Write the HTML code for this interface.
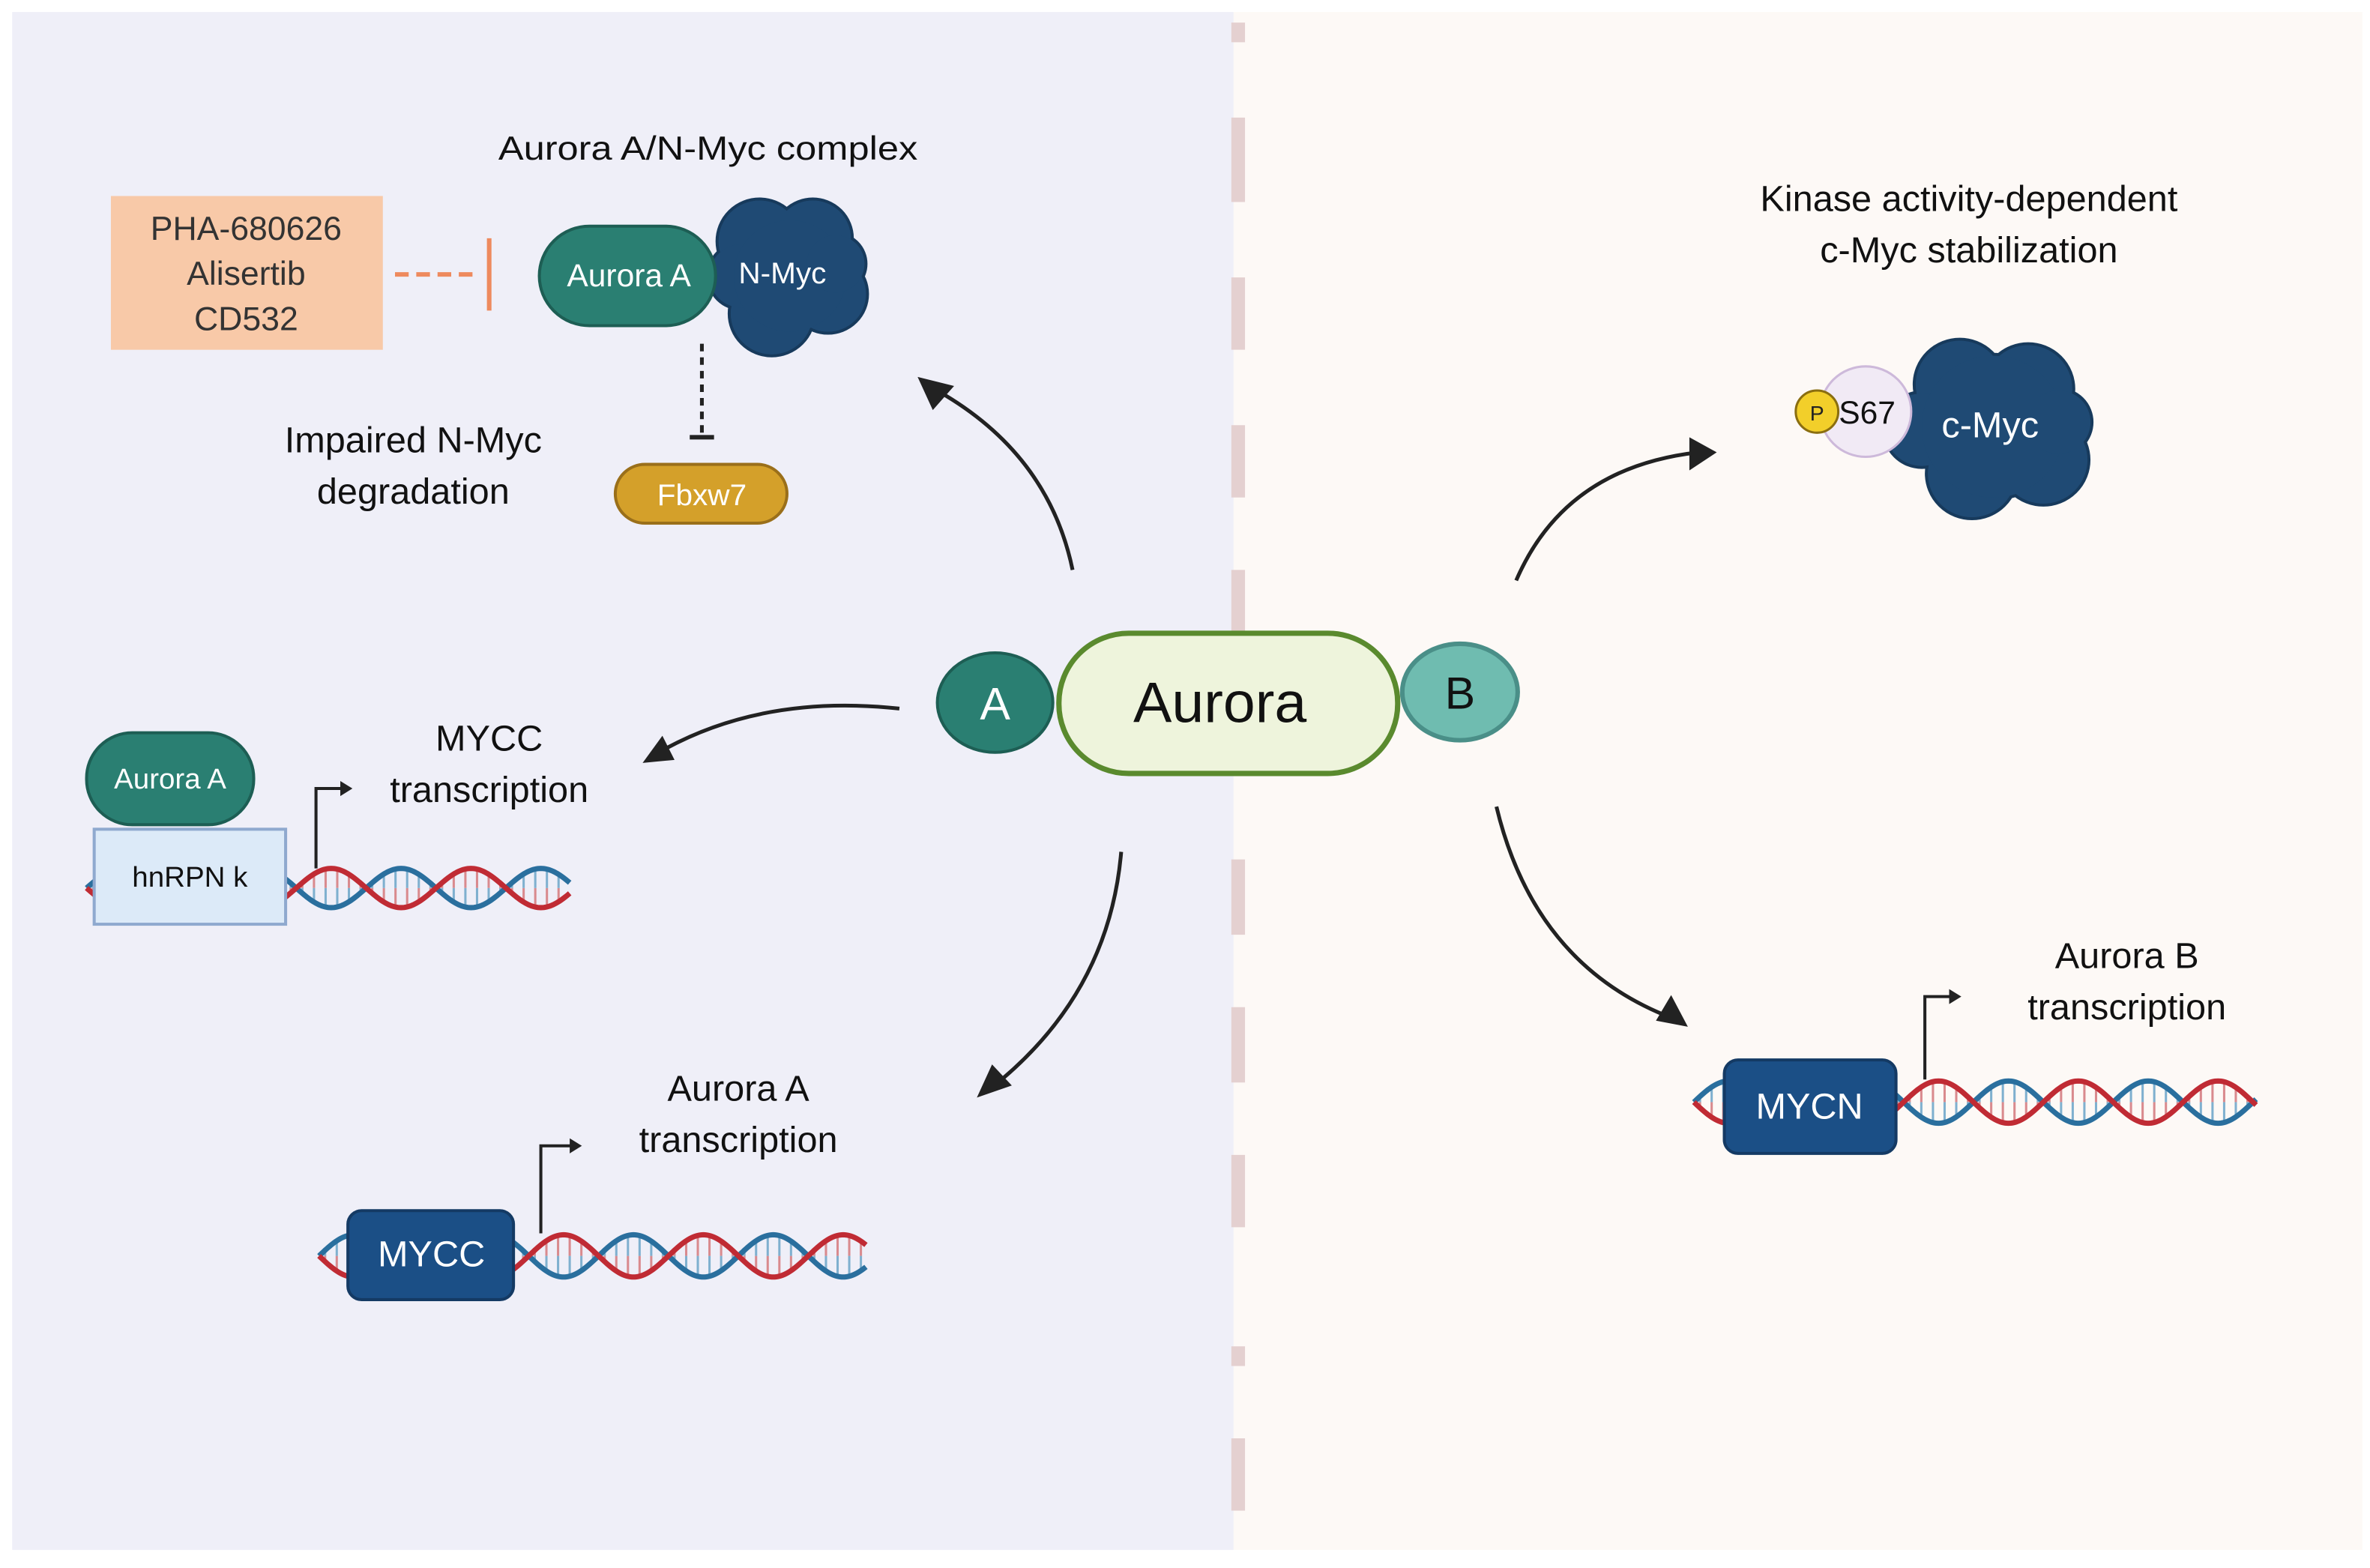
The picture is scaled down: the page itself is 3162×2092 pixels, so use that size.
<!DOCTYPE html>
<html><head><meta charset="utf-8">
<style>
html,body{margin:0;padding:0;background:#fff;}
svg{display:block;}
text{font-family:"Liberation Sans",Arial,sans-serif;}
</style></head>
<body>
<svg id="s" width="3162" height="2092" viewBox="0 0 1560 1040" preserveAspectRatio="none" xmlns="http://www.w3.org/2000/svg">
<rect x="0" y="0" width="1560" height="1040" fill="#ffffff"/>
<rect x="8" y="8" width="804" height="1020" fill="#efeff8"/>
<rect x="812" y="8" width="743" height="1020" fill="#fdf9f6"/>
<g stroke="#e4d0d0" stroke-width="9">
<line x1="815" y1="15" x2="815" y2="28"/>
<line x1="815" y1="78" x2="815" y2="134"/>
<line x1="815" y1="184" x2="815" y2="232"/>
<line x1="815" y1="282" x2="815" y2="330"/>
<line x1="815" y1="378" x2="815" y2="420"/>
<line x1="815" y1="570" x2="815" y2="620"/>
<line x1="815" y1="668" x2="815" y2="718"/>
<line x1="815" y1="766" x2="815" y2="814"/>
<line x1="815" y1="893" x2="815" y2="906"/>
<line x1="815" y1="954" x2="815" y2="1002"/>
</g>

<text x="466" y="106" font-size="22" text-anchor="middle" fill="#111" textLength="276" lengthAdjust="spacingAndGlyphs">Aurora A/N-Myc complex</text>
<rect x="73" y="130" width="179" height="102" fill="#f8c9a8"/>
<text x="162" y="159" font-size="22" text-anchor="middle" fill="#333">PHA-680626</text>
<text x="162" y="189" font-size="22" text-anchor="middle" fill="#333">Alisertib</text>
<text x="162" y="219" font-size="22" text-anchor="middle" fill="#333">CD532</text>
<line x1="260" y1="182" x2="316" y2="182" stroke="#ee8a5e" stroke-width="3" stroke-dasharray="9,5"/>
<line x1="322" y1="158" x2="322" y2="206" stroke="#ee8a5e" stroke-width="3"/>

<g fill="#1f4a74" stroke="#173a5c" stroke-width="2">
<circle cx="500" cy="160" r="28"/><circle cx="535" cy="158" r="26"/><circle cx="545" cy="195" r="26"/>
<circle cx="508" cy="208" r="28"/><circle cx="488" cy="183" r="22"/><circle cx="520" cy="183" r="38"/><circle cx="550" cy="175" r="20"/>
</g>
<g fill="#1f4a74"><circle cx="500" cy="160" r="27"/><circle cx="535" cy="158" r="25"/><circle cx="545" cy="195" r="25"/>
<circle cx="508" cy="208" r="27"/><circle cx="488" cy="183" r="21"/><circle cx="520" cy="183" r="37"/><circle cx="550" cy="175" r="19"/></g>
<rect x="355" y="150" width="116" height="66" rx="33" fill="#2a7f72" stroke="#1d5e54" stroke-width="2"/>
<text x="414" y="190" font-size="21" text-anchor="middle" fill="#fff">Aurora A</text>
<text x="515" y="188" font-size="20" text-anchor="middle" fill="#fff">N-Myc</text>

<line x1="462" y1="228" x2="462" y2="288" stroke="#222" stroke-width="2.5" stroke-dasharray="5,4"/>
<line x1="454" y1="290" x2="470" y2="290" stroke="#222" stroke-width="3"/>
<rect x="405" y="308" width="113" height="39" rx="19.5" fill="#d4a02a" stroke="#9a6f1a" stroke-width="2"/>
<text x="462" y="335" font-size="20" text-anchor="middle" fill="#fff">Fbxw7</text>
<text x="272" y="300" font-size="24" text-anchor="middle" fill="#111">Impaired N-Myc</text>
<text x="272" y="334" font-size="24" text-anchor="middle" fill="#111">degradation</text>

<g fill="none" stroke="#222" stroke-width="2.5">
<path d="M706,378 Q690,300 615,258"/>
<path d="M592,470 Q500,460 432,500"/>
<path d="M738,565 Q730,660 652,722"/>
<path d="M998,385 Q1030,310 1118,300"/>
<path d="M985,535 Q1010,640 1100,675"/>
</g>
<g fill="#222">
<polygon points="604,250 628,256 614,272"/>
<polygon points="423,506 436,488 444,504"/>
<polygon points="643,728 653,706 666,720"/>
<polygon points="1130,300 1112,290 1112,312"/>
<polygon points="1111,681 1090,677 1100,660"/>
</g>

<ellipse cx="655" cy="466" rx="38" ry="33" fill="#2a7f72" stroke="#1d5e54" stroke-width="2"/>
<text x="655" y="477" font-size="30" text-anchor="middle" fill="#fff">A</text>
<ellipse cx="961" cy="459" rx="38" ry="32" fill="#6fbcb0" stroke="#4a8f88" stroke-width="3"/>
<text x="961" y="470" font-size="30" text-anchor="middle" fill="#111">B</text>
<rect x="697" y="420" width="223" height="93" rx="46" fill="#eef4dc" stroke="#5a8a2e" stroke-width="3.5"/>
<text x="803" y="479" font-size="38" text-anchor="middle" fill="#111">Aurora</text>

<text x="322" y="498" font-size="24" text-anchor="middle" fill="#111">MYCC</text>
<text x="322" y="532" font-size="24" text-anchor="middle" fill="#111">transcription</text>
<g id="dna1"></g>
<rect x="62" y="550" width="126" height="63" fill="#dceaf8" stroke="#8fa9cf" stroke-width="2"/>
<text x="125" y="588" font-size="19" text-anchor="middle" fill="#111">hnRPN k</text>
<rect x="57" y="486" width="110" height="61" rx="30" fill="#2a7f72" stroke="#1d5e54" stroke-width="2"/>
<text x="112" y="523" font-size="19" text-anchor="middle" fill="#fff">Aurora A</text>
<polyline points="208,576 208,523 226,523" fill="none" stroke="#222" stroke-width="2"/>
<polygon points="232,523 224,518 224,528" fill="#222"/>

<text x="486" y="730" font-size="24" text-anchor="middle" fill="#111">Aurora A</text>
<text x="486" y="764" font-size="24" text-anchor="middle" fill="#111">transcription</text>
<g id="dna2"></g>
<rect x="229" y="803" width="109" height="59" rx="9" fill="#1b4f86" stroke="#143a64" stroke-width="2"/>
<text x="284" y="840" font-size="24" text-anchor="middle" fill="#fff">MYCC</text>
<polyline points="356,818 356,760 376,760" fill="none" stroke="#222" stroke-width="2"/>
<polygon points="383,760 375,755 375,765" fill="#222"/>

<text x="1296" y="140" font-size="24" text-anchor="middle" fill="#111">Kinase activity-dependent</text>
<text x="1296" y="174" font-size="24" text-anchor="middle" fill="#111">c-Myc stabilization</text>
<g fill="#1f4a74" stroke="#173a5c" stroke-width="2">
<circle cx="1290" cy="255" r="30"/><circle cx="1335" cy="258" r="30"/><circle cx="1345" cy="305" r="30"/>
<circle cx="1298" cy="314" r="30"/><circle cx="1265" cy="285" r="25"/><circle cx="1312" cy="283" r="48"/><circle cx="1355" cy="280" r="22"/>
</g>
<g fill="#1f4a74"><circle cx="1290" cy="255" r="29"/><circle cx="1335" cy="258" r="29"/><circle cx="1345" cy="305" r="29"/>
<circle cx="1298" cy="314" r="29"/><circle cx="1265" cy="285" r="24"/><circle cx="1312" cy="283" r="47"/><circle cx="1355" cy="280" r="21"/></g>
<circle cx="1228" cy="273" r="30" fill="#f1eaf5" stroke="#cdb9da" stroke-width="1.5"/>
<circle cx="1196" cy="273" r="14" fill="#f2cf2a" stroke="#8a6e10" stroke-width="1.5"/>
<text x="1196" y="279" font-size="14" text-anchor="middle" fill="#222">P</text>
<text x="1229" y="281" font-size="21" text-anchor="middle" fill="#111">S67</text>
<text x="1310" y="290" font-size="24" text-anchor="middle" fill="#fff">c-Myc</text>

<text x="1400" y="642" font-size="24" text-anchor="middle" fill="#111">Aurora B</text>
<text x="1400" y="676" font-size="24" text-anchor="middle" fill="#111">transcription</text>
<g id="dna3"></g>
<rect x="1135" y="703" width="113" height="62" rx="9" fill="#1b4f86" stroke="#143a64" stroke-width="2"/>
<text x="1191" y="742" font-size="24" text-anchor="middle" fill="#fff">MYCN</text>
<polyline points="1267,716 1267,661 1284,661" fill="none" stroke="#222" stroke-width="2"/>
<polygon points="1291,661 1283,656 1283,666" fill="#222"/>
</svg>
<script>
function dna(id,x0,x1,yc,amp,per){
  var g=document.getElementById(id);
  var rungs="";
  for(var x=x0+4;x<x1;x+=per/12){
    var p=2*Math.PI*(x-x0)/per;
    var ya=yc+amp*Math.sin(p), yb=yc-amp*Math.sin(p);
    var m=(ya+yb)/2;
    rungs+='<line x1="'+x+'" y1="'+ya+'" x2="'+x+'" y2="'+m+'" stroke="#d98a8e" stroke-width="1.5"/>';
    rungs+='<line x1="'+x+'" y1="'+m+'" x2="'+x+'" y2="'+yb+'" stroke="#7fb0cf" stroke-width="1.5"/>';
  }
  var a="",b="";
  for(var x=x0;x<=x1;x+=1){
    var p=2*Math.PI*(x-x0)/per;
    a+=(x==x0?"M":"L")+x+","+(yc+amp*Math.sin(p));
    b+=(x==x0?"M":"L")+x+","+(yc-amp*Math.sin(p));
  }
  g.innerHTML=rungs+'<path d="'+b+'" fill="none" stroke="#2a6f9e" stroke-width="3.5"/><path d="'+a+'" fill="none" stroke="#c02b34" stroke-width="3.5"/>';
}
dna("dna1",57,375,589,13,92);
dna("dna2",210,570,833,14,92);
dna("dna3",1115,1485,731,14,92);
</script>
</body></html>
